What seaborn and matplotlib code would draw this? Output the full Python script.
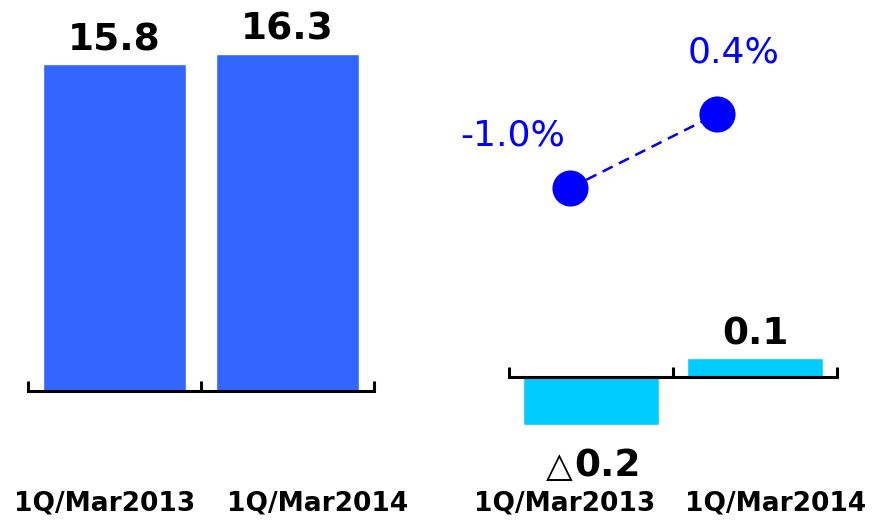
import matplotlib
matplotlib.use("Agg")
import matplotlib.pyplot as plt
import seaborn as sns
import pandas as pd

# ---- data ----
categories = ["1Q/Mar2013", "1Q/Mar2014"]
sales_values = [15.8, 16.3]
sales_labels = ["15.8", "16.3"]
growth_values = [-1.0, 0.4]
growth_labels = ["-1.0%", "0.4%"]
change_values = [-0.23, 0.09]
change_labels = ["0.2", "0.1"]
change_signs = ["△", ""]

sns.set_theme(style="white")
plt.rcParams["font.family"] = ["DejaVu Sans"]

W, H = 872, 521
fig = plt.figure(figsize=(W / 100, H / 100), dpi=100)


def px_axes(x0, y0, x1, y1):
    return fig.add_axes([x0 / W, 1 - y1 / H, (x1 - x0) / W, (y1 - y0) / H])


BLUE = "#3366FF"
CYAN = "#00CCFF"
LINEBLUE = "#0000FF"

# ---- left panel: bars ----
ax1 = px_axes(28, 10, 374, 391)
df1 = pd.DataFrame({"cat": categories, "val": sales_values})
sns.barplot(data=df1, x="cat", y="val", color=BLUE, saturation=1, width=0.83,
            ax=ax1)
ax1.set_xlim(-0.5, 1.5)
ax1.set_ylim(0, 381 / 20.7)
for i, (v, lab) in enumerate(zip(sales_values, sales_labels)):
    ax1.annotate(lab, xy=(i, v), xytext=(0, 10), textcoords="offset points",
                 ha="center", va="baseline", fontsize=27, fontweight="bold",
                 color="black")

# ---- right panel: change bars ----
ax2 = px_axes(509, 340, 837, 440)
df2 = pd.DataFrame({"cat": categories, "val": change_values})
sns.barplot(data=df2, x="cat", y="val", color=CYAN, saturation=1, width=0.83,
            ax=ax2)
ax2.set_xlim(-0.5, 1.5)
ax2.set_ylim(-0.30, 0.175)
ax2.spines["bottom"].set_position(("data", 0))
for i, (v, lab, sgn) in enumerate(zip(change_values, change_labels, change_signs)):
    if v >= 0:
        ax2.annotate(lab, xy=(i, v), xytext=(0, 10), textcoords="offset points",
                     ha="center", va="baseline", fontsize=27, fontweight="bold",
                     color="black", annotation_clip=False)
    else:
        ax2.annotate(lab, xy=(i, v), xytext=(12, -37), textcoords="offset points",
                     ha="center", va="baseline", fontsize=27, fontweight="bold",
                     color="black", annotation_clip=False)
        ax2.annotate(sgn, xy=(i, v), xytext=(-13, -37), textcoords="offset points",
                     ha="right", va="baseline", fontsize=25,
                     color="black", annotation_clip=False)

for ax in (ax1, ax2):
    ax.set_facecolor("none")
    for s in ("top", "left", "right"):
        ax.spines[s].set_visible(False)
    ax.spines["bottom"].set_color("black")
    ax.spines["bottom"].set_linewidth(2.2)
    ax.spines["bottom"].set_capstyle("projecting")
    ax.set_xticks([-0.5, 0.5, 1.5])
    ax.set_xticklabels([])
    ax.set_yticks([])
    ax.set_xlabel("")
    ax.set_ylabel("")
    ax.tick_params(axis="x", direction="in", length=7, width=2.2,
                   color="black", bottom=True)

# category labels under each panel
label_pos = [(105, 504), (318, 504), (565, 504), (776, 504)]
for (x, y), lab in zip(label_pos, categories + categories):
    fig.text(x / W, 1 - y / H, lab, ha="center", va="center", fontsize=19,
             fontweight="bold", color="black")

# ---- right panel: growth line ----
ax3 = px_axes(440, 30, 800, 230)
x_pts = [0, 1]
sns.lineplot(x=x_pts, y=growth_values, ax=ax3, color=LINEBLUE, linewidth=1.8,
             marker="o", markersize=26, markeredgewidth=0, linestyle="--")
ln = ax3.lines[0]
ln.set_dashes((4.5, 2.8))
ax3.set_xlim(-130 / 147, 230 / 147)
ax3.set_ylim(-1.0 - 42 / 52.86, 0.4 + 84 / 52.86)
ax3.axis("off")
offsets = [(-41, 38), (12, 44)]
for xv, v, lab, off in zip(x_pts, growth_values, growth_labels, offsets):
    ax3.annotate(lab, xy=(xv, v), xytext=off, textcoords="offset points",
                 ha="center", va="center", fontsize=26, color=LINEBLUE,
                 annotation_clip=False)

fig.savefig("out.png", dpi=100)
